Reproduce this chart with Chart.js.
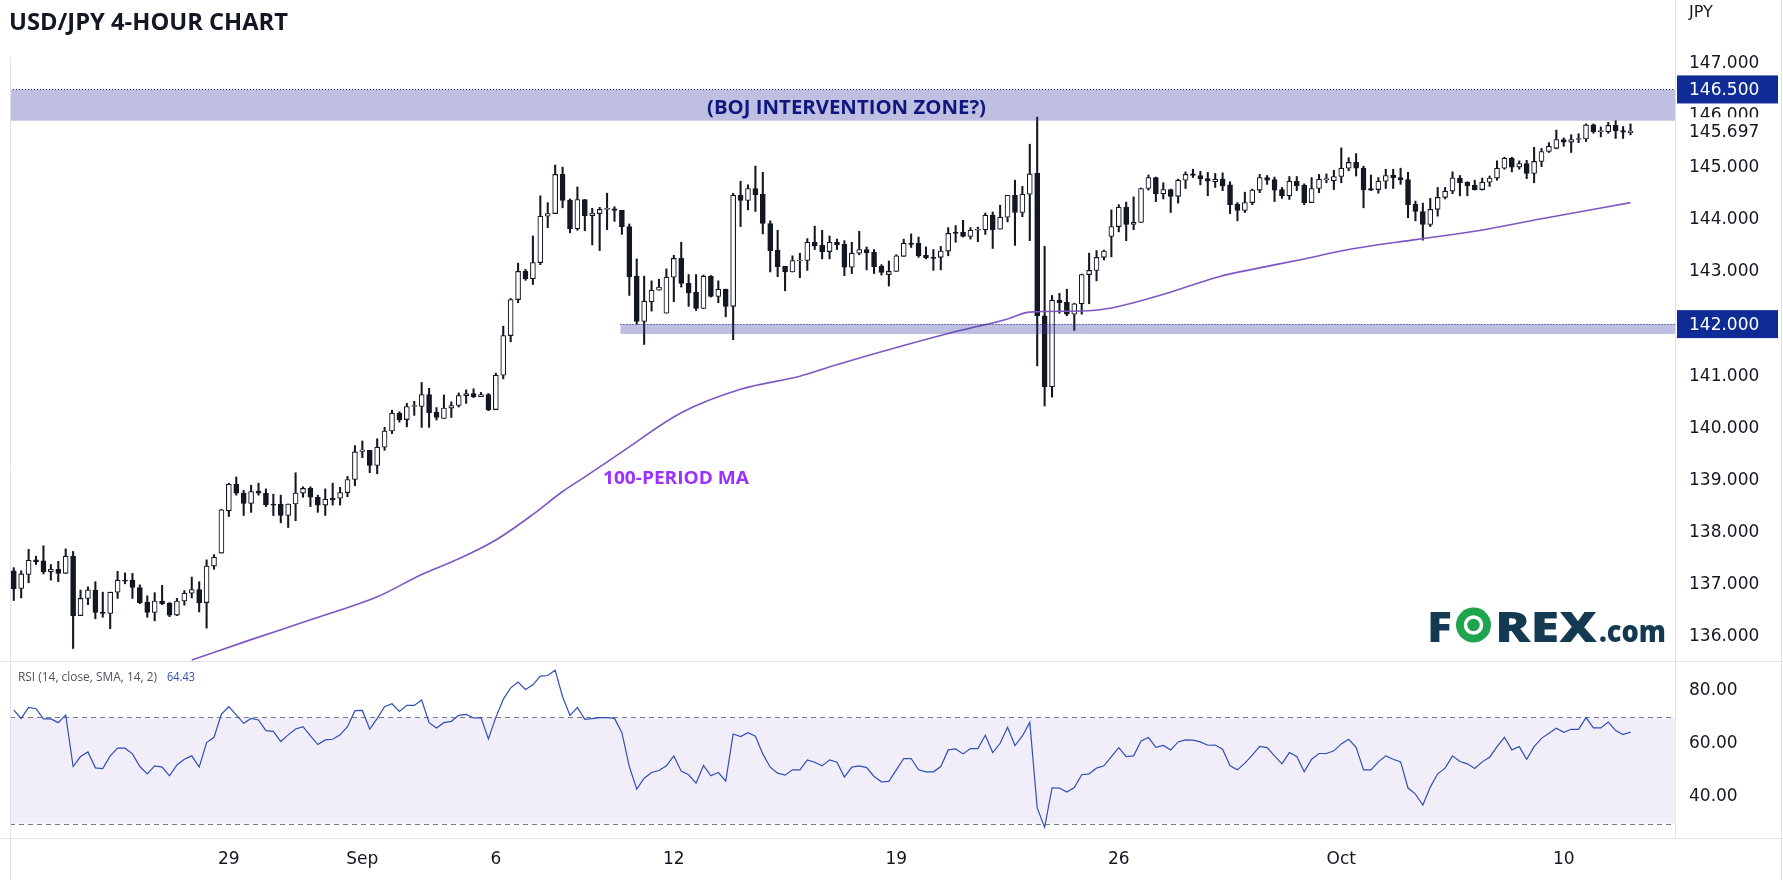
<!DOCTYPE html>
<html>
<head>
<meta charset="utf-8">
<title>USD/JPY 4-Hour Chart</title>
<script src="https://cdn.jsdelivr.net/npm/chart.js@4.4.0/dist/chart.umd.min.js"></script>
<style>
  html, body { margin: 0; padding: 0; background: #fff; }
  #wrap { position: relative; width: 1783px; height: 880px; }
</style>
</head>
<body>
<div id="wrap"><canvas id="chart" width="1783" height="880"></canvas></div>
<script>
// 4-hour candles (index 0 = first candle on the left)
const opens = [
  137.27,136.93,137.20,137.48,137.46,137.25,137.30,137.22,137.55,136.41,
  136.74,136.90,136.48,136.45,136.86,137.09,137.09,136.95,136.67,136.47,
  136.69,136.65,136.42,136.69,136.84,136.91,136.66,137.36,137.61,138.42,
  138.93,138.76,138.56,138.80,138.76,138.55,138.55,138.33,138.55,138.76,
  138.85,138.68,138.53,138.66,138.66,138.77,139.02,139.56,139.58,139.29,
  139.64,139.95,140.29,140.17,140.42,140.42,140.65,140.31,140.19,140.39,
  140.44,140.63,140.67,140.61,140.65,140.36,141.02,141.78,142.47,143.01,
  142.87,143.18,144.07,144.12,144.87,144.38,143.83,144.39,144.08,144.12,
  144.20,144.21,144.18,143.87,142.92,142.05,142.43,142.65,142.21,142.90,
  143.26,142.78,142.61,142.30,142.92,142.53,142.67,142.34,144.47,144.37,
  144.60,144.49,143.93,143.42,143.11,143.00,143.21,143.22,143.57,143.51,
  143.39,143.57,143.53,143.09,143.36,143.43,143.38,143.11,142.95,143.01,
  143.30,143.55,143.55,143.32,143.28,143.28,143.40,143.76,143.76,143.68,
  143.80,143.81,144.09,143.82,144.05,144.47,144.14,144.49,144.89,142.16,
  140.80,142.46,142.42,142.19,142.39,142.95,143.03,143.28,143.68,143.87,
  144.24,143.91,143.95,144.60,144.81,144.50,144.58,144.45,144.76,144.88,
  144.85,144.79,144.73,144.78,144.67,144.30,144.18,144.33,144.57,144.81,
  144.77,144.58,144.46,144.74,144.66,144.33,144.60,144.77,144.75,144.83,
  144.99,145.10,144.99,144.60,144.58,144.74,144.86,144.81,144.77,144.30,
  144.16,143.91,144.20,144.43,144.55,144.80,144.72,144.66,144.58,144.72,
  144.80,144.99,145.18,145.01,145.08,144.89,145.12,145.31,145.37,145.54,
  145.49,145.54,145.55,145.82,145.69,145.69,145.81,145.71,145.67
];
const highs = [
  137.33,137.27,137.68,137.55,137.75,137.39,137.45,137.69,137.64,136.90,
  136.96,137.06,136.86,136.86,137.26,137.23,137.22,137.00,136.79,136.85,
  136.99,136.66,136.74,136.89,137.15,137.06,137.48,137.58,138.45,138.95,
  139.07,138.81,138.91,138.95,138.84,138.74,138.72,138.55,139.15,138.88,
  138.88,138.72,138.84,138.95,138.87,139.08,139.67,139.76,139.58,139.80,
  140.02,140.35,140.32,140.48,140.52,140.88,140.77,140.40,140.64,140.51,
  140.68,140.74,140.76,140.69,140.67,141.06,141.96,142.49,143.17,143.05,
  143.69,144.46,144.33,145.05,145.01,144.40,144.63,144.39,144.22,144.24,
  144.51,144.25,144.18,143.92,143.25,142.92,142.83,142.86,143.06,143.32,
  143.57,142.95,142.95,142.94,142.93,142.83,142.67,144.51,144.74,144.67,
  145.03,144.91,143.98,143.80,143.11,143.31,143.36,143.64,143.88,143.80,
  143.69,143.63,143.60,143.57,143.78,143.48,143.43,143.14,143.21,143.33,
  143.63,143.73,143.67,143.48,143.43,143.49,143.85,143.89,143.99,143.85,
  143.86,144.13,144.15,144.28,144.47,144.76,144.64,145.45,145.97,143.49,
  142.55,142.59,142.67,142.40,142.96,143.36,143.41,143.42,144.19,144.29,
  144.34,144.44,144.61,144.86,144.82,144.71,144.59,144.78,144.92,144.97,
  144.93,144.91,144.89,144.90,144.73,144.33,144.53,144.59,144.87,144.85,
  144.82,144.62,144.83,144.83,144.69,144.81,144.87,144.88,144.95,145.38,
  145.19,145.27,145.03,144.86,144.81,144.97,144.97,144.99,144.91,144.36,
  144.32,144.41,144.62,144.62,144.92,144.85,144.73,144.76,144.80,144.84,
  145.13,145.20,145.20,145.13,145.14,145.39,145.37,145.48,145.72,145.57,
  145.63,145.65,145.84,145.84,145.78,145.87,145.90,145.79,145.84
];
const lows = [
  136.70,136.75,137.04,137.39,137.21,137.09,137.06,137.22,135.78,136.41,
  136.62,136.35,136.38,136.16,136.74,137.02,136.74,136.64,136.38,136.31,
  136.62,136.39,136.41,136.61,136.75,136.48,136.17,137.30,137.61,138.31,
  138.72,138.33,138.39,138.72,138.50,138.33,138.19,138.10,138.23,138.68,
  138.50,138.39,138.33,138.53,138.53,138.69,138.90,139.44,139.15,139.13,
  139.58,139.90,140.12,140.03,140.25,140.02,140.02,140.16,140.19,140.21,
  140.41,140.48,140.59,140.61,140.34,140.36,140.95,141.66,142.41,142.84,
  142.76,143.14,143.85,144.12,144.23,143.75,143.80,143.79,143.52,143.41,
  143.81,143.97,143.72,142.55,142.00,141.61,142.25,142.65,142.21,142.43,
  142.71,142.34,142.26,142.30,142.52,142.41,142.14,141.70,143.87,144.19,
  144.16,143.73,143.00,142.91,142.64,143.00,142.89,143.03,143.43,143.25,
  143.25,143.43,142.93,142.97,143.33,143.04,142.97,142.94,142.73,143.01,
  143.30,143.47,143.28,143.25,143.03,143.04,143.31,143.57,143.67,143.63,
  143.58,143.72,143.45,143.82,143.96,143.51,144.06,143.60,141.20,140.43,
  140.60,142.21,142.16,141.88,142.19,142.39,142.83,143.23,143.29,143.77,
  143.60,143.81,143.95,144.57,144.35,144.40,144.14,144.32,144.60,144.81,
  144.67,144.46,144.62,144.56,144.12,143.98,144.14,144.29,144.52,144.68,
  144.35,144.41,144.39,144.56,144.29,144.33,144.52,144.71,144.58,144.71,
  144.94,144.84,144.23,144.56,144.51,144.60,144.60,144.68,144.04,143.98,
  143.61,143.87,144.07,144.40,144.50,144.46,144.46,144.57,144.57,144.64,
  144.76,144.97,144.92,144.97,144.79,144.71,145.02,145.29,145.36,145.41,
  145.29,145.48,145.50,145.66,145.59,145.66,145.56,145.56,145.63
];
const closes = [
  136.92,137.21,137.47,137.44,137.25,137.30,137.22,137.55,136.41,136.74,
  136.90,136.47,136.45,136.86,137.09,137.07,136.95,136.66,136.47,136.69,
  136.64,136.42,136.69,136.84,136.91,136.66,137.36,137.53,138.44,138.93,
  138.76,138.56,138.79,138.76,138.54,138.53,138.33,138.55,138.76,138.85,
  138.68,138.53,138.64,138.63,138.77,139.02,139.55,139.59,139.29,139.64,
  139.95,140.29,140.17,140.42,140.44,140.65,140.30,140.21,140.39,140.44,
  140.63,140.67,140.61,140.65,140.36,141.02,141.78,142.47,143.01,142.87,
  143.18,144.07,144.12,144.87,144.37,143.83,144.39,144.08,144.13,144.20,
  144.22,144.18,143.87,142.91,142.05,142.44,142.65,142.71,142.90,143.26,
  142.78,142.60,142.30,142.92,142.53,142.67,142.34,144.47,144.37,144.60,
  144.48,143.93,143.41,143.10,143.00,143.22,143.23,143.57,143.50,143.39,
  143.57,143.52,143.09,143.36,143.43,143.37,143.10,142.99,143.01,143.31,
  143.55,143.53,143.31,143.27,143.26,143.40,143.74,143.74,143.68,143.80,
  143.82,144.09,143.81,144.05,144.47,144.14,144.49,144.88,142.16,140.80,
  142.46,142.41,142.19,142.39,142.95,143.03,143.28,143.40,143.87,144.24,
  143.91,143.95,144.60,144.81,144.50,144.58,144.45,144.76,144.87,144.85,
  144.79,144.74,144.78,144.65,144.29,144.18,144.33,144.57,144.81,144.76,
  144.57,144.46,144.74,144.65,144.33,144.60,144.78,144.79,144.83,144.99,
  145.10,144.99,144.58,144.57,144.74,144.85,144.81,144.77,144.29,144.16,
  143.91,144.20,144.43,144.55,144.80,144.71,144.65,144.58,144.72,144.80,
  144.99,145.18,145.01,145.08,144.89,145.12,145.31,145.41,145.54,145.49,
  145.54,145.56,145.82,145.69,145.71,145.81,145.71,145.68,145.70
];

// RSI(14), one value per candle
const rsiValues = [
  72.75,69.6,73.75,73.25,69.4,69.4,68.0,70.9,51.5,55.25,
  57.0,51.0,50.75,55.5,58.4,58.4,56.25,51.5,48.75,51.75,
  51.25,48.0,52.1,54.25,55.5,51.25,60.5,62.5,71.25,74.0,
  70.9,67.75,69.6,69.0,65.0,64.75,60.9,63.4,65.6,66.5,
  63.0,59.75,61.5,61.75,63.4,66.5,72.5,72.6,65.5,69.6,
  74.0,75.1,72.25,74.5,74.5,76.5,68.0,66.0,68.0,68.5,
  70.75,71.1,69.75,69.9,61.9,70.0,76.75,81.1,83.25,80.5,
  82.25,85.5,85.75,87.75,77.75,70.75,73.75,69.25,69.5,69.9,
  69.9,69.6,64.25,51.5,43.0,47.1,49.25,50.0,51.75,55.5,
  49.75,48.4,45.25,51.9,48.0,49.25,46.0,63.75,62.75,64.25,
  62.9,56.25,51.25,49.0,48.25,50.25,50.25,54.0,53.1,51.75,
  54.0,53.1,47.5,51.25,51.75,51.1,47.75,45.75,45.9,50.25,
  54.5,54.5,50.25,49.5,49.5,51.5,57.75,58.1,56.25,58.25,
  58.25,63.25,56.75,60.25,66.25,59.4,63.0,68.1,35.9,28.6,
  43.5,43.4,41.9,43.6,48.4,48.75,50.9,51.75,55.25,58.6,
  55.25,55.5,61.1,62.4,58.75,59.4,57.75,60.75,61.5,61.4,
  60.75,59.5,59.6,58.0,51.75,50.25,52.75,55.75,59.1,58.6,
  55.5,52.5,56.75,55.25,49.5,54.25,56.4,56.4,57.4,60.0,
  61.75,58.75,50.25,50.25,53.25,55.5,54.25,53.25,43.4,41.1,
  37.0,43.75,48.75,50.9,55.5,53.4,52.5,50.75,53.25,55.0,
  59.0,62.5,57.75,59.0,54.25,59.0,62.1,64.0,65.9,64.4,
  65.5,65.5,69.9,66.0,66.0,68.25,65.0,63.5,64.43
];

// 100-period moving average
const maIndex  = [24, 32, 40, 49, 55, 60, 65, 70, 74, 77, 82, 90, 98, 106, 110.5, 119.5, 126, 134, 137, 144, 148, 151, 155.5, 162.5, 167, 174, 180, 189, 197, 206, 218];
const maValues = [135.56, 135.95, 136.33, 136.77, 137.2, 137.5, 137.86, 138.35, 138.79, 139.07, 139.55, 140.3, 140.75, 141.0, 141.2, 141.57, 141.82, 142.1, 142.23, 142.25, 142.31, 142.41, 142.59, 142.91, 143.05, 143.25, 143.43, 143.62, 143.78, 144.02, 144.33];

const dayTickIndex  = [29, 47, 65, 89, 119, 149, 179, 209];
const dayTickLabels = ['29', 'Sep', '6', '12', '19', '26', 'Oct', '10'];
const priceTicks = [136, 137, 138, 139, 140, 141, 142, 143, 144, 145, 146, 147];
const rsiTicks = [40, 60, 80];

const bojZone = [145.90, 146.50];
const supportZone = [141.81, 142.00];
const supportFromIndex = 81.8;
const rsiBand = [30, 70];
const lastPrice = 145.697;
const lastRsi = 64.43;

const INK = '#131722';
const LINE = '#e0e3eb';
const NAVY = '#0f2c96';

const idx = closes.map((_, i) => i);
const bodies = idx.map(i => ({ x: i, y: [opens[i], closes[i]] }));
const wicks = idx.map(i => ({ x: i, y: [lows[i], highs[i]] }));
const bodyFill = idx.map(i => closes[i] >= opens[i] ? '#ffffff' : INK);

// draw text stretched or squeezed to an exact width, left edge at x
function fitText(ctx, text, x, y, w) {
  const m = ctx.measureText(text).width;
  ctx.save();
  ctx.translate(x, y);
  ctx.scale(w / m, 1);
  ctx.textAlign = 'left';
  ctx.fillText(text, 0, 0);
  ctx.restore();
}

const noPad = s => { s.paddingTop = 0; s.paddingBottom = 0; s.paddingLeft = 0; s.paddingRight = 0; };

const decor = {
  id: 'decor',
  beforeDatasetsDraw(chart) {
    const { ctx, chartArea: a } = chart;
    const yr = chart.scales.yr;
    const t = yr.getPixelForValue(rsiBand[1]);
    const b = yr.getPixelForValue(rsiBand[0]);
    ctx.save();
    ctx.fillStyle = 'rgba(126,87,194,0.1)';
    ctx.fillRect(a.left, t, a.right - a.left, b - t);
    ctx.strokeStyle = '#787b86';
    ctx.lineWidth = 1;
    ctx.setLineDash([5, 4]);
    [t, b].forEach(py => {
      ctx.beginPath();
      ctx.moveTo(a.left, Math.round(py) + 0.5);
      ctx.lineTo(a.right, Math.round(py) + 0.5);
      ctx.stroke();
    });
    ctx.restore();
  },
  afterDatasetsDraw(chart) {
    const { ctx, chartArea: a } = chart;
    const x = chart.scales.x, y = chart.scales.y;
    const zone = (z, x0) => {
      const top = y.getPixelForValue(z[1]);
      const bot = y.getPixelForValue(z[0]);
      ctx.fillStyle = 'rgba(60,60,165,0.33)';
      ctx.fillRect(x0, top, a.right - x0, bot - top);
      ctx.strokeStyle = '#1a237e';
      ctx.lineWidth = 1;
      ctx.setLineDash([1, 2]);
      ctx.beginPath();
      ctx.moveTo(x0, Math.round(top) + 0.5);
      ctx.lineTo(a.right, Math.round(top) + 0.5);
      ctx.stroke();
      ctx.setLineDash([]);
    };
    ctx.save();
    zone(bojZone, a.left);
    zone(supportZone, x.getPixelForValue(supportFromIndex));
    ctx.restore();
  },
  afterDraw(chart) {
    const { ctx, chartArea: a } = chart;
    const y = chart.scales.y, yr = chart.scales.yr;
    const W = chart.width;
    ctx.save();

    // pane separators and frame
    ctx.strokeStyle = LINE;
    ctx.lineWidth = 1;
    ctx.beginPath();
    ctx.moveTo(0, Math.round(yr.top) + 0.5); ctx.lineTo(W, Math.round(yr.top) + 0.5);
    ctx.moveTo(0, Math.round(a.bottom) + 0.5); ctx.lineTo(W, Math.round(a.bottom) + 0.5);
    ctx.moveTo(a.left + 0.5, 57); ctx.lineTo(a.left + 0.5, 880);
    ctx.moveTo(W - 1.5, 0); ctx.lineTo(W - 1.5, 880);
    ctx.stroke();

    ctx.textBaseline = 'alphabetic';

    // title
    ctx.fillStyle = INK;
    ctx.font = 'bold 23px "Open Sans"';
    fitText(ctx, 'USD/JPY 4-HOUR CHART', 9, 29.5, 279);

    // zone caption
    ctx.fillStyle = '#10167f';
    ctx.font = 'bold 19px "Open Sans"';
    fitText(ctx, '(BOJ INTERVENTION ZONE?)', 707, 114, 279);

    // MA caption
    ctx.fillStyle = '#9b30ff';
    ctx.font = 'bold 18px "Open Sans"';
    fitText(ctx, '100-PERIOD MA', 603, 484, 146);

    // RSI legend
    ctx.font = '13px "Open Sans"';
    ctx.fillStyle = '#50535e';
    fitText(ctx, 'RSI (14, close, SMA, 14, 2)', 18, 680.5, 139);
    ctx.fillStyle = '#2f4fb5';
    fitText(ctx, lastRsi.toFixed(2), 167, 680.5, 28);

    // axis unit
    ctx.fillStyle = INK;
    ctx.font = '16px "DejaVu Sans"';
    ctx.textAlign = 'left';
    ctx.textBaseline = 'middle';
    ctx.fillText('JPY', 1689, 12.5);

    // axis price boxes
    const box = (val, bg, fg) => {
      const py = y.getPixelForValue(val);
      ctx.fillStyle = bg;
      ctx.fillRect(1677, py - 14, 101, 28);
      ctx.fillStyle = fg;
      ctx.font = '17px "DejaVu Sans"';
      ctx.textBaseline = 'middle';
      ctx.textAlign = 'left';
      ctx.fillText(val.toFixed(3), 1689, py + 1);
    };
    box(lastPrice, '#ffffff', INK);
    box(bojZone[1], NAVY, '#ffffff');
    box(supportZone[1], NAVY, '#ffffff');

    // FOREX.com logo
    ctx.textBaseline = 'alphabetic';
    ctx.fillStyle = '#133a52';
    ctx.font = '800 43px "Open Sans"';
    fitText(ctx, 'F', 1427, 642, 25);
    ctx.fillStyle = '#1ea54e';
    ctx.beginPath(); ctx.arc(1473.5, 625, 17.5, 0, Math.PI * 2); ctx.fill();
    ctx.strokeStyle = '#ffffff'; ctx.lineWidth = 3.5;
    ctx.beginPath(); ctx.arc(1473.5, 625, 8, 0, Math.PI * 2); ctx.stroke();
    ctx.fillStyle = '#133a52';
    ctx.font = '800 43px "Open Sans"';
    fitText(ctx, 'REX', 1495, 642, 102);
    ctx.font = '800 30px "Open Sans"';
    fitText(ctx, '.com', 1599, 642, 67);

    ctx.restore();
  }
};

new Chart(document.getElementById('chart').getContext('2d'), {
  type: 'bar',
  data: {
    datasets: [
      {
        type: 'line', label: '100-period MA',
        data: maIndex.map((v, k) => ({ x: v, y: maValues[k] })),
        yAxisID: 'y', borderColor: '#7e57c2', borderWidth: 1.6,
        pointRadius: 0, cubicInterpolationMode: 'monotone', order: 0
      },
      {
        label: 'Body', data: bodies, yAxisID: 'y',
        backgroundColor: bodyFill, borderColor: INK, borderWidth: 1.1,
        borderSkipped: false, barThickness: 5, grouped: false, order: 1
      },
      {
        label: 'Wick', data: wicks, yAxisID: 'y',
        backgroundColor: INK, borderWidth: 0,
        barThickness: 1.4, grouped: false, order: 2
      },
      {
        type: 'line', label: 'RSI',
        data: idx.map(i => ({ x: i, y: rsiValues[i] })),
        yAxisID: 'yr', borderColor: '#2f4fb5', borderWidth: 1.2,
        pointRadius: 0, tension: 0, order: 0
      }
    ]
  },
  options: {
    responsive: false,
    animation: false,
    events: [],
    layout: { padding: { left: 10, top: 0, right: 0, bottom: 0 } },
    plugins: { legend: { display: false }, tooltip: { enabled: false } },
    scales: {
      x: {
        type: 'linear', min: -0.51, max: 224.0, offset: false,
        grid: { display: false, drawTicks: false },
        border: { display: false },
        afterBuildTicks: s => { s.ticks = dayTickIndex.map(v => ({ value: v })); },
        afterFit: s => { s.height = 42; noPad(s); },
        ticks: {
          autoSkip: false, maxRotation: 0, padding: 11, color: INK,
          font: { family: 'DejaVu Sans', size: 17 },
          callback: v => dayTickLabels[dayTickIndex.indexOf(v)] || ''
        }
      },
      y: {
        position: 'right', stack: 'panes', stackWeight: 661,
        min: 135.54, max: 148.215,
        grid: { display: false, drawTicks: false },
        border: { display: true, color: LINE },
        afterBuildTicks: s => { s.ticks = priceTicks.map(v => ({ value: v })); },
        afterFit: s => { s.width = 108; noPad(s); },
        ticks: {
          padding: 14, color: INK,
          font: { family: 'DejaVu Sans', size: 17 },
          callback: v => Number(v).toFixed(3)
        }
      },
      yr: {
        position: 'right', stack: 'panes', stackWeight: 177,
        min: 24.6, max: 91.2,
        grid: { display: false, drawTicks: false },
        border: { display: true, color: LINE },
        afterBuildTicks: s => { s.ticks = rsiTicks.map(v => ({ value: v })); },
        afterFit: s => { s.width = 108; noPad(s); },
        ticks: {
          padding: 14, color: INK,
          font: { family: 'DejaVu Sans', size: 17 },
          callback: v => Number(v).toFixed(2)
        }
      }
    }
  },
  plugins: [decor]
});
</script>
</body>
</html>
